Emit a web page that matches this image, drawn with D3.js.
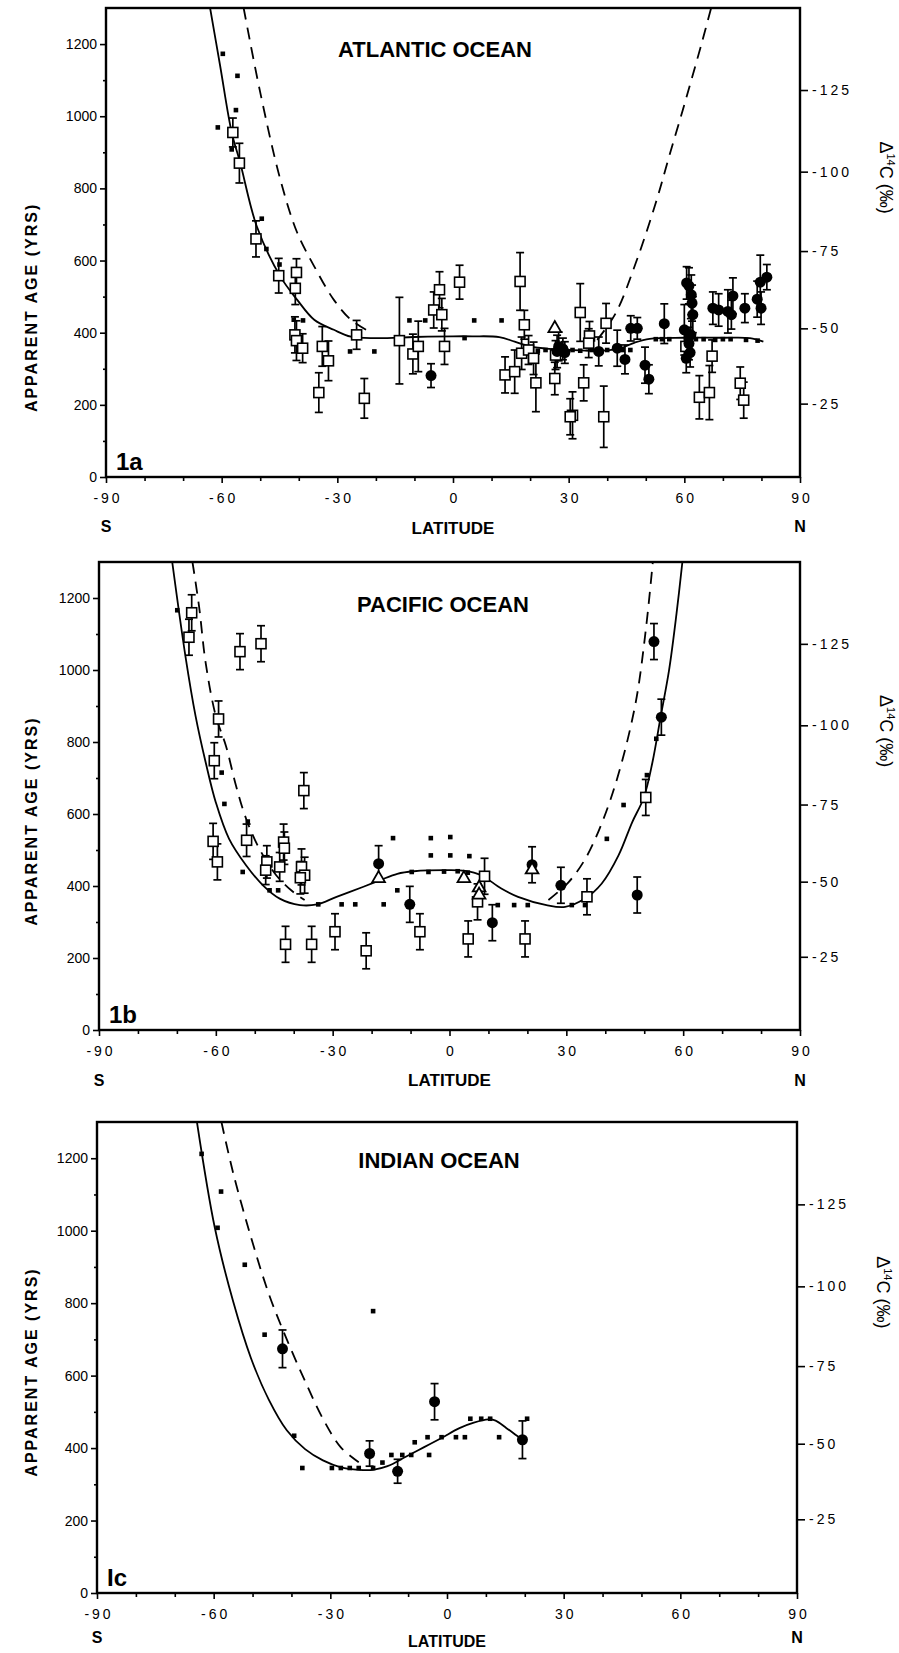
<!DOCTYPE html>
<html>
<head>
<meta charset="utf-8">
<script src="https://cdn.jsdelivr.net/npm/d3@7"></script>
<style>
  body { margin: 0; background: #fff; }
  svg { display: block; }
  text { font-family: "Liberation Sans", Arial, sans-serif; fill: #000; }
</style>
</head>
<body>
<div id="chart"></div>
<script>
// ---- ticks ----
const ageTicks = [0, 200, 400, 600, 800, 1000, 1200];
const ageMinor = [100, 300, 500, 700, 900, 1100];
const latTicks = [-90, -60, -30, 0, 30, 60, 90];
const latMinor = [-80, -70, -50, -40, -20, -10, 10, 20, 40, 50, 70, 80];
const deltaTicks = [-25, -50, -75, -100, -125];

// ---- Atlantic (1a) ----  [lat, age] / [lat, age, err]
const solidA = [[-63,1300],[-60.4,1140],[-57.4,955],[-55.2,871],[-50.9,695],[-44.8,556],[-40.4,491],[-36,436],[-30.9,408],[-26.5,389],[-20,385],[-10,388],[0,390],[5,390],[12,388],[16,375],[20,362],[25,355],[30,352],[38,350],[43,355],[47,372],[51,383],[60,386],[70,386],[77,385],[80.5,375]];
const dashA1 = [[-54.3,1300],[-50,1066],[-44.8,825],[-40.4,677],[-36,584],[-30.9,491],[-26.5,436],[-21.7,403]];
const dashA2 = [[37.4,380],[42.2,454],[47.4,593],[52.6,760],[56.1,890],[60.4,1047],[64.8,1214],[67,1302]];
const dotsA = [[-59.7,1173],[-55.9,1112],[-56.3,1017],[-61,969],[-57.4,908],[-49.6,716],[-48.4,632],[-45,589],[-41.3,436],[-38.9,434],[-26.7,348],[-20.4,348],[-11.3,434],[-7.2,434],[3,385],[5.5,434],[12.6,434],[22,350],[24,352],[26,350],[31,352],[33,350],[36,352],[38,350],[40,352],[44,352],[46,352],[52.6,382],[54.2,382],[56.1,382],[63,382],[65,382],[68,380],[70,382],[72,382],[76,380],[79,378]];
const squaresA = [[-57.1,955,40],[-55.4,870,55],[-51.1,660,50],[-45.2,558,48],[-40.6,567,38],[-40.9,523,45],[-41,394,50],[-40.6,378,55],[-39,357,40],[-33.9,362,55],[-32.3,322,55],[-34.8,234,55],[-25,394,40],[-23,218,55],[-13.9,378,120],[-10.4,341,55],[-9,362,70],[-5,463,50],[-3.5,519,50],[-2.9,450,45],[-2.2,362,50],[1.7,540,47],[13.5,283,50],[16,292,60],[17.4,542,80],[18.5,422,40],[17.8,343,45],[19.6,352,40],[20.9,329,45],[21.5,261,80],[26.4,273,45],[26.6,338,40],[31,171,65],[30.4,167,50],[33.9,261,50],[33,456,80],[35.4,391,40],[35.2,371,40],[39.7,426,55],[39.1,167,85],[63.9,221,60],[66.5,234,75],[67.2,335,45],[74.5,260,45],[75.4,213,50],[60.4,362,40]];
const circlesA = [[-5.7,281,33],[27,348,45],[27.4,362,40],[28.5,355,30],[29,345,30],[37.8,348,40],[42.6,357,50],[44.6,326,40],[46.1,412,35],[47.8,412,30],[49.8,310,50],[50.8,271,40],[54.8,425,55],[60,408,70],[60.6,538,45],[61.2,530,50],[61.8,505,55],[62,482,50],[62.2,450,50],[61.7,394,45],[61.2,370,45],[60.5,329,40],[61.5,345,40],[67.4,468,45],[68.9,463,45],[71.3,459,60],[72.2,450,40],[72.6,502,50],[75.7,468,40],[78.9,493,50],[79.7,540,75],[79.9,468,45],[81.4,554,35]];
const trianglesA = [[26.4,412]];

// ---- Pacific (1b) ----
const solidB = [[-71.2,1300],[-67.8,1038],[-65.2,872],[-62.6,743],[-60,632],[-56.6,531],[-52.2,457],[-47.9,402],[-43.6,365],[-38.4,347],[-34,349],[-29,370],[-22.1,398],[-17.8,416],[-13.4,434],[-9.1,441],[-0.5,444],[4,442],[8.1,430],[13.3,393],[17.6,370],[24.9,347],[29.7,342],[34.8,365],[39.1,407],[43.4,485],[46.9,577],[49.9,646],[52.1,743],[54.2,869],[56.4,1001],[58.3,1157],[59.8,1300]];
const dashB1 = [[-66,1300],[-64.3,1176],[-62.6,1019],[-60,872],[-57.4,789],[-54.8,678],[-52.2,586],[-48.8,503],[-44.5,430],[-40.2,384],[-37.2,361]];
const dashB2 = [[25.4,361],[30.6,411],[34.9,476],[39.2,577],[43.5,715],[47.8,909],[50.4,1111],[52.2,1300]];
const dotsB = [[-69.9,1166],[-58.5,715],[-57.8,628],[-51.8,579],[-53.1,439],[-44,388],[-46.2,388],[-33.7,349],[-27.7,349],[-24.2,349],[-16.9,349],[-13.4,388],[-14.5,533],[-4.8,533],[0.2,536],[-4.8,485],[0.2,485],[5.1,483],[-9.7,439],[-5.4,439],[-1.4,440],[2.1,441],[4.7,437],[12.4,347],[16.6,347],[20.1,347],[31.4,347],[34.8,347],[40.4,531],[44.7,625],[50.7,708],[53.1,809]];
const squaresB = [[-66.2,1159,50],[-66.9,1091,50],[-53.8,1051,50],[-48.4,1073,50],[-59.3,864,50],[-60.4,748,50],[-60.7,524,50],[-59.6,467,50],[-52.1,527,45],[-46.9,467,45],[-47.2,444,40],[-43.6,453,40],[-42.6,522,50],[-42.4,505,45],[-38,453,50],[-37.2,430,50],[-38.3,423,45],[-37.4,665,50],[-42.1,238,50],[-35.4,238,50],[-29.4,273,50],[-21.4,220,50],[-7.6,273,50],[9,427,50],[7.2,356,50],[4.8,253,50],[19.4,253,50],[35.3,370,50],[50.4,646,50]];
const circlesB = [[-18.2,462,50],[-10.2,349,50],[11,298,50],[21.2,459,50],[28.6,402,50],[48.2,375,50],[52.5,1079,50],[54.4,869,50]];
const trianglesB = [[-18.2,421],[3.7,421],[7.6,395],[7.6,375],[21.2,445]];

// ---- Indian (1c) ----
const solidC = [[-64.3,1300],[-59.7,1008],[-55,805],[-50.4,648],[-45.8,533],[-41.2,449],[-36.5,397],[-31.9,366],[-27.3,347],[-22.7,340],[-19,340],[-15.3,350],[-10.6,376],[-6,402],[-1.4,428],[3.2,455],[6.9,470],[10.6,479],[12.5,476],[15.3,455],[18,434],[19.4,423]];
const dashC1 = [[-58,1300],[-55,1160],[-50.4,982],[-45.8,825],[-41.2,700],[-36.5,585],[-31.9,481],[-27.3,402],[-22.7,361]];
const dotsC = [[-63.1,1212],[-58.1,1108],[-59,1008],[-52,906],[-46.9,713],[-39.3,434],[-37.2,345],[-29.6,345],[-27.3,345],[-25,345],[-22.7,345],[-19,345],[-16.6,360],[-14.3,381],[-11.5,381],[-9.2,381],[-8.3,416],[-4.6,381],[-5,430],[-1.4,430],[2.3,430],[4.6,430],[6,481],[8.8,481],[11.1,481],[13.4,430],[20.6,481],[-19,778]];
const circlesC = [[-42.3,674,52],[-19.9,385,35],[-12.7,336,33],[-3.2,528,50],[19.4,423,52]];

// layout of the three panels (pixels)
const panels = [
  { id: "a", tag: "1a", title: "ATLANTIC OCEAN", L: 106, R: 800, T: 8, B: 477, titleX: 435, titleY: 57, ylabAge: 470, sY: 55, latY: 57, latFs: 17,
    solid: solidA, dashed: [dashA1, dashA2], dots: dotsA, squares: squaresA, circles: circlesA, triangles: trianglesA },
  { id: "b", tag: "1b", title: "PACIFIC OCEAN", L: 99, R: 800, T: 562, B: 1030, titleX: 443, titleY: 612, ylabAge: 580, sY: 56, latY: 56, latFs: 17,
    solid: solidB, dashed: [dashB1, dashB2], dots: dotsB, squares: squaresB, circles: circlesB, triangles: trianglesB },
  { id: "c", tag: "Ic", title: "INDIAN OCEAN", L: 97, R: 797, T: 1122, B: 1593, titleX: 439, titleY: 1168, ylabAge: 610, sY: 50, latY: 54, latFs: 16,
    solid: solidC, dashed: [dashC1], dots: dotsC, squares: [], circles: circlesC, triangles: [] }
];

const svg = d3.select("#chart").append("svg")
  .attr("width", 899)
  .attr("height", 1653);

const drawPanel = (p) => {
  const x = d3.scaleLinear().domain([-90, 90]).range([p.L, p.R]);
  const y = d3.scaleLinear().domain([0, 1300]).range([p.B, p.T]);
  // right axis: age = -8033 ln(1 + D/1000), so pixel is linear in log(1 + D/1000)
  const yDelta = d3.scaleLog().domain([1, Math.exp(-1300 / 8033)]).range([p.B, p.T]);

  const g = svg.append("g");

  g.append("clipPath").attr("id", "clip-" + p.id)
    .append("rect")
    .attr("x", p.L).attr("y", p.T)
    .attr("width", p.R - p.L).attr("height", p.B - p.T);

  // axes
  const styleAxis = (sel, fs) => {
    sel.select(".domain").remove();
    sel.selectAll(".tick line").attr("stroke", "#000").attr("stroke-width", 1.6);
    sel.selectAll(".tick text").attr("font-size", fs).attr("fill", "#000")
      .attr("font-family", "Liberation Sans, Arial, sans-serif");
  };

  g.append("g").attr("transform", `translate(${p.L},0)`)
    .call(d3.axisLeft(y).tickValues(ageTicks).tickSize(6).tickPadding(3).tickFormat(d => String(d)))
    .call(s => styleAxis(s, 14));
  g.append("g").attr("transform", `translate(${p.L},0)`)
    .call(d3.axisLeft(y).tickValues(ageMinor).tickSize(3).tickFormat(""))
    .call(s => styleAxis(s, 14));

  g.append("g").attr("transform", `translate(0,${p.B})`)
    .call(d3.axisBottom(x).tickValues(latTicks).tickSize(6).tickPadding(10).tickFormat(d => String(d)))
    .call(s => styleAxis(s, 14))
    .call(s => s.selectAll(".tick text").attr("letter-spacing", "3px").attr("dx", "1.5px"));
  g.append("g").attr("transform", `translate(0,${p.B})`)
    .call(d3.axisBottom(x).tickValues(latMinor).tickSize(4).tickFormat(""))
    .call(s => styleAxis(s, 14));

  g.append("g").attr("transform", `translate(${p.R},0)`)
    .call(d3.axisRight(yDelta).tickValues(deltaTicks.map(d => 1 + d / 1000)).tickSize(8).tickPadding(4)
      .tickFormat(t => String(Math.round((t - 1) * 1000))))
    .call(s => styleAxis(s, 14))
    .call(s => s.selectAll(".tick text").attr("letter-spacing", "3px"));

  // frame
  g.append("rect")
    .attr("x", p.L).attr("y", p.T)
    .attr("width", p.R - p.L).attr("height", p.B - p.T)
    .attr("fill", "none").attr("stroke", "#000").attr("stroke-width", 2.4);

  // axis titles
  g.append("text")
    .attr("transform", `translate(37,${y(p.ylabAge)}) rotate(-90)`)
    .attr("text-anchor", "middle")
    .attr("font-size", 16).attr("font-weight", "bold").attr("letter-spacing", "2px")
    .text("APPARENT AGE (YRS)");

  const dl = g.append("text")
    .attr("transform", `translate(${p.R + 80},${y(830)}) rotate(90)`)
    .attr("text-anchor", "middle")
    .attr("font-size", 18);
  dl.append("tspan").text("\u0394");
  dl.append("tspan").attr("font-size", 11).attr("dy", -7).text("14");
  dl.append("tspan").attr("dy", 7).text("C  (\u2030)");

  g.append("text")
    .attr("x", x(0)).attr("y", p.B + p.latY)
    .attr("text-anchor", "middle")
    .attr("font-family", "Liberation Sans Narrow, Liberation Sans, Arial, sans-serif")
    .attr("font-size", p.latFs).attr("font-weight", "bold")
    .text("LATITUDE");
  g.append("text").attr("x", x(-90)).attr("y", p.B + p.sY)
    .attr("text-anchor", "middle").attr("font-size", 16).attr("font-weight", "bold").text("S");
  g.append("text").attr("x", x(90)).attr("y", p.B + p.sY)
    .attr("text-anchor", "middle").attr("font-size", 16).attr("font-weight", "bold").text("N");

  g.append("text")
    .attr("x", p.titleX).attr("y", p.titleY)
    .attr("text-anchor", "middle")
    .attr("font-size", 22).attr("font-weight", "bold")
    .text(p.title);

  g.append("text")
    .attr("x", p.L + 10).attr("y", p.B - 7)
    .attr("font-family", "Liberation Sans Narrow, Liberation Sans, Arial, sans-serif")
    .attr("font-size", 24).attr("font-weight", "bold")
    .text(p.tag);

  // marks
  const plot = g.append("g").attr("clip-path", `url(#clip-${p.id})`);
  const line = d3.line()
    .x(d => x(d[0])).y(d => y(d[1]))
    .curve(d3.curveCatmullRom.alpha(0.5));

  plot.append("path").datum(p.solid)
    .attr("d", line).attr("fill", "none")
    .attr("stroke", "#000").attr("stroke-width", 1.8);

  p.dashed.forEach(seg => {
    plot.append("path").datum(seg)
      .attr("d", line).attr("fill", "none")
      .attr("stroke", "#000").attr("stroke-width", 1.8)
      .attr("stroke-dasharray", "12,8");
  });

  plot.selectAll(".dot").data(p.dots).join("rect")
    .attr("class", "dot")
    .attr("x", d => x(d[0]) - 2.3).attr("y", d => y(d[1]) - 2.3)
    .attr("width", 4.6).attr("height", 4.6).attr("fill", "#000");

  const withErr = p.squares.concat(p.circles);
  const eb = plot.selectAll(".err").data(withErr).join("g").attr("class", "err")
    .attr("stroke", "#000").attr("stroke-width", 1.7);
  eb.append("line")
    .attr("x1", d => x(d[0])).attr("x2", d => x(d[0]))
    .attr("y1", d => y(d[1] - d[2])).attr("y2", d => y(d[1] + d[2]));
  eb.append("line")
    .attr("x1", d => x(d[0]) - 4).attr("x2", d => x(d[0]) + 4)
    .attr("y1", d => y(d[1] - d[2])).attr("y2", d => y(d[1] - d[2]));
  eb.append("line")
    .attr("x1", d => x(d[0]) - 4).attr("x2", d => x(d[0]) + 4)
    .attr("y1", d => y(d[1] + d[2])).attr("y2", d => y(d[1] + d[2]));

  plot.selectAll(".sq").data(p.squares).join("rect")
    .attr("class", "sq")
    .attr("x", d => x(d[0]) - 5).attr("y", d => y(d[1]) - 5)
    .attr("width", 10).attr("height", 10)
    .attr("fill", "#fff").attr("stroke", "#000").attr("stroke-width", 1.6);

  plot.selectAll(".ci").data(p.circles).join("circle")
    .attr("class", "ci")
    .attr("cx", d => x(d[0])).attr("cy", d => y(d[1]))
    .attr("r", 5.5).attr("fill", "#000");

  plot.selectAll(".tri").data(p.triangles).join("path")
    .attr("class", "tri")
    .attr("transform", d => `translate(${x(d[0])},${y(d[1])})`)
    .attr("d", d3.symbol(d3.symbolTriangle, 70))
    .attr("fill", "#fff").attr("stroke", "#000").attr("stroke-width", 1.8);
};

panels.forEach(drawPanel);
</script>
</body>
</html>
